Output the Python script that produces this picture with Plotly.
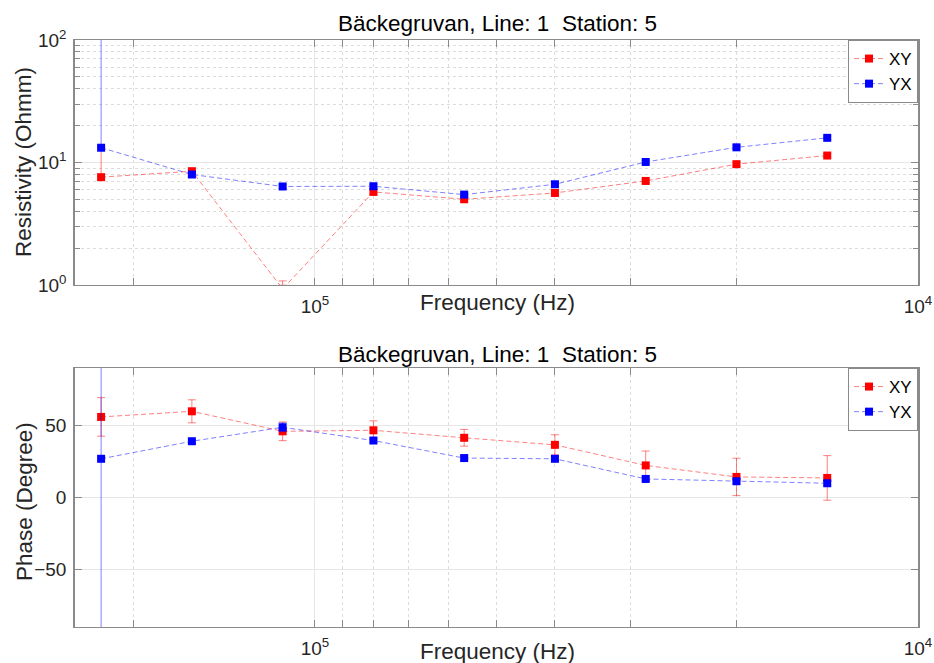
import math
import plotly.graph_objects as go

# ---------------- data ----------------
freq = [226274, 160000, 113137, 80000, 56569, 40000, 28284, 20000, 14142]

rho_xy = [7.59, 8.49, 0.93, 5.75, 5.01, 5.64, 7.07, 9.69, 11.4]
rho_xy_err_up = [6.0, 0.3, 0.15, 0.25, 0.2, 0.2, 0.25, 0.35, 0.4]
rho_xy_err_dn = [0.0, 0.3, 0.15, 0.25, 0.2, 0.2, 0.25, 0.35, 0.4]

rho_yx = [13.2, 7.98, 6.37, 6.4, 5.47, 6.64, 10.1, 13.3, 15.9]
rho_yx_err_up = [300.0, 0.3, 0.25, 0.25, 0.2, 0.25, 0.35, 0.45, 0.5]
rho_yx_err_dn = [0.0, 0.3, 0.25, 0.25, 0.2, 0.25, 0.35, 0.45, 0.5]

phase_xy = [56.0, 59.9, 46.0, 46.7, 41.5, 36.6, 22.3, 14.3, 13.6]
phase_xy_err = [13.4, 8.0, 6.5, 6.6, 5.8, 7.0, 10.0, 13.0, 15.5]

phase_yx = [26.9, 39.1, 48.8, 39.6, 27.4, 26.9, 12.9, 11.3, 9.9]
phase_yx_err = [400.0, 1.5, 3.0, 1.5, 1.5, 1.5, 1.5, 1.5, 1.5]

title_text = "Bäckegruvan, Line: 1  Station: 5"
x_major = [1e5, 1e4]
x_major_text = ["10<sup>5</sup>", "10<sup>4</sup>"]
x_minor = [2e5, 2e4, 3e4, 4e4, 5e4, 6e4, 7e4, 8e4, 9e4]
rho_major = [1, 10, 100]
rho_major_text = ["10<sup>0</sup>", "10<sup>1</sup>", "10<sup>2</sup>"]
rho_minor = [2, 3, 4, 5, 6, 7, 8, 9, 20, 30, 40, 50, 60, 70, 80, 90]
phase_major = [-50, 0, 50]

# ---------------- style ----------------
FONT = "Liberation Sans, Arial, Helvetica, sans-serif"
RED = "#ff0000"
BLUE = "#0000ff"
RED_L = "rgba(255,0,0,0.5)"
BLUE_L = "rgba(0,0,255,0.5)"
AX = "#8a8a8a"
TXT = "#262626"
W, H = 934, 663
ML, MR, MT, MB = 75, 16, 40, 36
PW, PH = W - ML - MR, H - MT - MB


def px_x(px):
    return (px - ML) / PW


def px_y(py):
    return (H - MB - py) / PH


fig = go.Figure()


def add_series(x, y, up, dn, line_col, mark_col, name, xa, ya, leg):
    fig.add_trace(go.Scatter(
        x=x, y=y, mode="lines+markers", name=name,
        xaxis=xa, yaxis=ya, legend=leg, showlegend=True,
        line=dict(color=line_col, width=1, dash="5px,3px"),
        marker=dict(symbol="square", size=8, color=mark_col,
                    line=dict(width=0)),
        error_y=dict(type="data", array=up, arrayminus=dn, symmetric=False,
                     color=line_col, thickness=1, width=4),
    ))


add_series(freq, rho_xy, rho_xy_err_up, rho_xy_err_dn, RED_L, RED, "XY", "x", "y", "legend")
add_series(freq, rho_yx, rho_yx_err_up, rho_yx_err_dn, BLUE_L, BLUE, "YX", "x", "y", "legend")
add_series(freq, phase_xy, phase_xy_err, phase_xy_err, RED_L, RED, "XY", "x2", "y2", "legend2")
add_series(freq, phase_yx, phase_yx_err, phase_yx_err, BLUE_L, BLUE, "YX", "x2", "y2", "legend2")

xr = [math.log10(250000), 4]

common_x = dict(
    type="log", range=xr, tickvals=x_major, ticktext=x_major_text,
    ticks="inside", ticklen=7, tickcolor=AX, tickwidth=1,
    showline=True, linecolor=AX, linewidth=1, mirror="ticks",
    showgrid=True, gridcolor="#e6e6e6", gridwidth=1,
    tickfont=dict(family=FONT, size=19, color=TXT),
    ticklabelstandoff=4, automargin=False,
    minor=dict(tickvals=x_minor, ticks="inside", ticklen=7, tickcolor=AX,
               showgrid=True, gridcolor="#dcdcdc", griddash="dot", gridwidth=1),
    zeroline=False,
)

legend_style = dict(xanchor="right", yanchor="top",
                    bgcolor="white", bordercolor=AX, borderwidth=1,
                    font=dict(family=FONT, size=17, color="black"),
                    tracegroupgap=0, itemwidth=30)

fig.update_layout(
    width=W, height=H,
    margin=dict(l=ML, r=MR, t=MT, b=MB, autoexpand=False),
    paper_bgcolor="white", plot_bgcolor="white",
    font=dict(family=FONT, color=TXT),
    xaxis=dict(domain=[0, 1], anchor="y", **common_x),
    xaxis2=dict(domain=[0, 1], anchor="y2", **common_x),
    yaxis=dict(
        domain=[px_y(285), 1], anchor="x", type="log", range=[0, 2],
        tickvals=rho_major, ticktext=rho_major_text,
        ticks="inside", ticklen=7, tickcolor=AX,
        showline=True, linecolor=AX, linewidth=1.5, mirror="ticks",
        showgrid=True, gridcolor="#e6e6e6",
        tickfont=dict(family=FONT, size=19, color=TXT),
        ticklabelstandoff=3, automargin=False,
        minor=dict(tickvals=rho_minor, ticks="inside", ticklen=5, tickcolor=AX,
                   showgrid=True, gridcolor="#dcdcdc", griddash="dot"),
        zeroline=False,
    ),
    yaxis2=dict(
        domain=[0, px_y(368)], anchor="x2", range=[-90, 90],
        tickvals=phase_major,
        ticks="inside", ticklen=7, tickcolor=AX,
        showline=True, linecolor=AX, linewidth=1.5, mirror="ticks",
        showgrid=True, gridcolor="#e6e6e6",
        tickfont=dict(family=FONT, size=19, color=TXT),
        ticklabelstandoff=3, automargin=False,
        zeroline=False,
    ),
    legend=dict(x=1, y=1, **legend_style),
    legend2=dict(x=1, y=px_y(368), **legend_style),
)

ann = []
for ty in (24, 354):
    ann.append(dict(text=title_text, x=px_x(497), y=px_y(ty), xref="paper", yref="paper",
                    xanchor="center", yanchor="middle", showarrow=False,
                    font=dict(family=FONT, size=22.5, color="black")))
for fy in (302, 651):
    ann.append(dict(text="Frequency (Hz)", x=px_x(497), y=px_y(fy), xref="paper", yref="paper",
                    xanchor="center", yanchor="middle", showarrow=False,
                    font=dict(family=FONT, size=22.5, color=TXT)))
ann.append(dict(text="Resistivity (Ohmm)", x=px_x(23), y=px_y(162), xref="paper", yref="paper",
                xanchor="center", yanchor="middle", showarrow=False, textangle=-90,
                font=dict(family=FONT, size=22.5, color=TXT)))
ann.append(dict(text="Phase (Degree)", x=px_x(25), y=px_y(502), xref="paper", yref="paper",
                xanchor="center", yanchor="middle", showarrow=False, textangle=-90,
                font=dict(family=FONT, size=22.5, color=TXT)))
fig.update_layout(annotations=ann)

fig.write_html("out.html")
